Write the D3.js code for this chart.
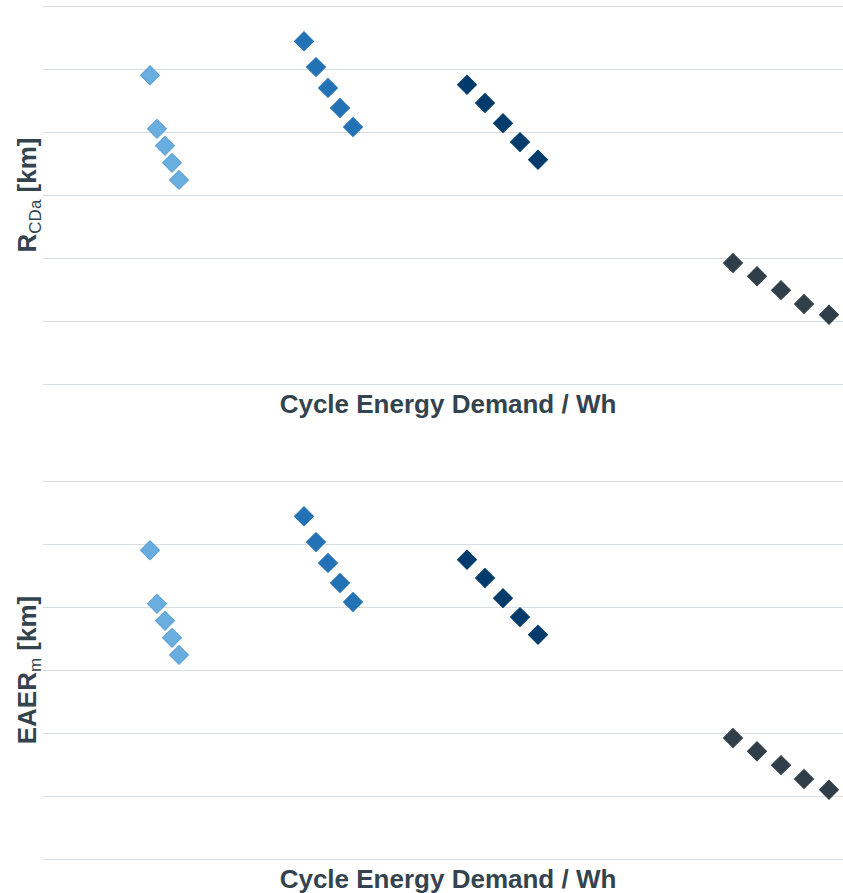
<!DOCTYPE html>
<html><head><meta charset="utf-8">
<script src="https://cdn.jsdelivr.net/npm/d3@7"></script>
<style>html,body{margin:0;padding:0;background:#fff;}svg{display:block;}</style>
</head><body>
<script>
// Data (arbitrary units since no tick labels shown)
const groups = ["A", "B", "C", "D"];
const colors = ["#6aaee0", "#2372b5", "#003b6b", "#2f3e49"];
const strokes = ["#5a9fd6", "#2372b5", "#003b6b", "#2f3e49"];
const energyA = [214, 228, 244, 258, 272];
const energyB = [522, 546, 570, 594, 620];
const energyC = [848, 884, 920, 954, 990];
const energyD = [1380, 1428, 1476, 1522, 1572];
const rangeA = [49.0, 40.5, 37.8, 35.1, 32.4];
const rangeB = [54.4, 50.3, 47.0, 43.8, 40.8];
const rangeC = [47.5, 44.6, 41.4, 38.4, 35.6];
const rangeD = [19.2, 17.1, 14.9, 12.7, 11.0];
const yTicks = [0, 10, 20, 30, 40, 50, 60];
const xLabel = "Cycle Energy Demand / Wh";
const panels = [
  {main: "R", sub: "CDa", unit: " [km]", top: 6},
  {main: "EAER", sub: "m", unit: " [km]", top: 481}
];

const W = 843, H = 893;
const svg = d3.select("body").append("svg").attr("width", W).attr("height", H);
const energies = [energyA, energyB, energyC, energyD];
const ranges = [rangeA, rangeB, rangeC, rangeD];

const x = d3.scaleLinear().domain([0, 1600]).range([43, 843]);
const sq = d3.symbol().type(d3.symbolSquare).size(180);

panels.forEach(p => {
  const y = d3.scaleLinear().domain([0, 60]).range([p.top + 378, p.top]);
  const g = svg.append("g");
  const ax = d3.axisLeft(y).tickValues(yTicks).tickSize(-(843 - 43)).tickFormat("");
  const ag = g.append("g").attr("transform", "translate(43,0)").call(ax);
  ag.select(".domain").remove();
  ag.selectAll(".tick line").attr("stroke", "#d8dde1").attr("stroke-width", 1.2);

  groups.forEach((gr, i) => {
    g.append("g").selectAll("path").data(energies[i].map((e, k) => [e, ranges[i][k]]))
      .join("path")
      .attr("d", sq)
      .attr("transform", d => `translate(${x(d[0])},${y(d[1])}) rotate(45)`)
      .attr("fill", colors[i])
      .attr("stroke", strokes[i])
      .attr("stroke-width", 1);
  });

  const yl = g.append("text")
    .attr("transform", `translate(36,${p.top + 189}) rotate(-90)`)
    .attr("text-anchor", "middle")
    .attr("font-family", "Liberation Sans, Arial, sans-serif")
    .attr("font-weight", "bold")
    .attr("font-size", 26)
    .attr("fill", "#34444f");
  yl.append("tspan").text(p.main);
  yl.append("tspan").text(p.sub).attr("font-size", 17).attr("font-weight", "normal").attr("dy", 5);
  yl.append("tspan").text(p.unit).attr("dy", -5);

  g.append("text")
    .attr("x", 448).attr("y", p.top + 407)
    .attr("text-anchor", "middle")
    .attr("font-family", "Liberation Sans, Arial, sans-serif")
    .attr("font-weight", "bold")
    .attr("font-size", 26)
    .attr("fill", "#34444f")
    .text(xLabel);
});
</script>
</body></html>
